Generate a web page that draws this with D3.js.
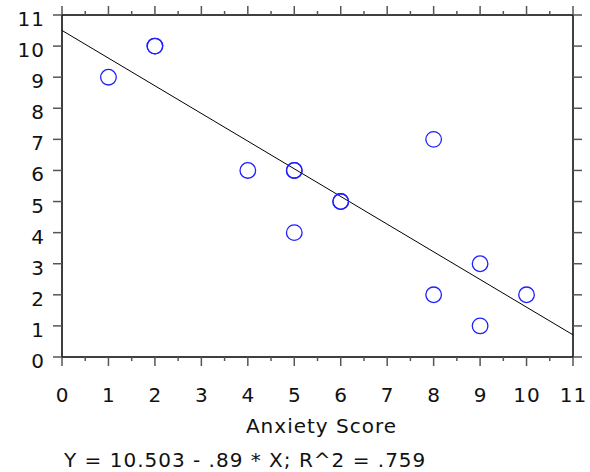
<!DOCTYPE html>
<html><head><meta charset="utf-8">
<script src="https://cdn.jsdelivr.net/npm/d3@7"></script>
<style>body{margin:0;background:#fff}svg{display:block}text{font-family:"DejaVu Sans",Verdana,sans-serif;fill:#111;letter-spacing:1px}</style>
</head><body>
<svg id="c" width="590" height="472"></svg>
<script>
const xValues = [1, 2, 2, 4, 5, 5, 5, 6, 6, 8, 8, 9, 9, 10];
const yValues = [9, 10, 10, 6, 6, 6, 4, 5, 5, 7, 2, 3, 1, 2];
const xTicks = [0,1,2,3,4,5,6,7,8,9,10,11];
const yTicks = [0,1,2,3,4,5,6,7,8,9,10,11];
const intercept = 10.503, slope = -0.89;
const xTitle = "Anxiety Score";
const equation = "Y = 10.503 - .89 * X; R^2 = .759";

const svg = d3.select("#c");
const L = 62, R = 573, T = 15, B = 357;
const x = d3.scaleLinear().domain([0, 11]).range([L, R]);
const y = d3.scaleLinear().domain([0, 11]).range([B, T]);
const minor = d3.range(0.5, 11, 1);
const FS = 20;

// frame
svg.append("rect").attr("x", L).attr("y", T).attr("width", R - L).attr("height", B - T)
  .attr("fill", "none").attr("stroke", "#000").attr("stroke-width", 1.5);

const tickG = svg.append("g").attr("stroke", "#555").attr("stroke-width", 1.5);
tickG.selectAll(".bx").data(xTicks).join("line").attr("x1", d => x(d)).attr("x2", d => x(d)).attr("y1", B).attr("y2", B + 9);
tickG.selectAll(".bxm").data(minor).join("line").attr("x1", d => x(d)).attr("x2", d => x(d)).attr("y1", B).attr("y2", B + 4);
tickG.selectAll(".tx").data(xTicks).join("line").attr("x1", d => x(d)).attr("x2", d => x(d)).attr("y1", T).attr("y2", T - 9);
tickG.selectAll(".txm").data(minor).join("line").attr("x1", d => x(d)).attr("x2", d => x(d)).attr("y1", T).attr("y2", T - 4);
tickG.selectAll(".ly").data(yTicks).join("line").attr("y1", d => y(d)).attr("y2", d => y(d)).attr("x1", L).attr("x2", L - 9);
tickG.selectAll(".ry").data(yTicks).join("line").attr("y1", d => y(d)).attr("y2", d => y(d)).attr("x1", R).attr("x2", R + 9);

// labels
svg.selectAll(".xl").data(xTicks).join("text").attr("x", d => x(d) + 0.5).attr("y", 402)
  .attr("text-anchor", "middle").attr("font-size", FS).text(d => d);
svg.selectAll(".yl").data(yTicks).join("text").attr("x", 45).attr("y", d => y(d) + 11)
  .attr("text-anchor", "end").attr("font-size", FS).text(d => d);

svg.append("text").attr("x", (L + R) / 2 + 4).attr("y", 433).attr("text-anchor", "middle")
  .attr("font-size", FS).text(xTitle);
svg.append("text").attr("x", 64).attr("y", 467).attr("font-size", FS).text(equation);

// regression line
svg.append("line").attr("x1", x(0)).attr("y1", y(intercept)).attr("x2", x(11)).attr("y2", y(intercept + slope * 11))
  .attr("stroke", "#000").attr("stroke-width", 1);

// points
svg.selectAll(".pt").data(xValues.map((v, i) => [v, yValues[i]])).join("circle")
  .attr("cx", d => x(d[0])).attr("cy", d => y(d[1])).attr("r", 7.8)
  .attr("fill", "none").attr("stroke", "#1f1fff").attr("stroke-width", 1.3);
</script>
</body></html>
